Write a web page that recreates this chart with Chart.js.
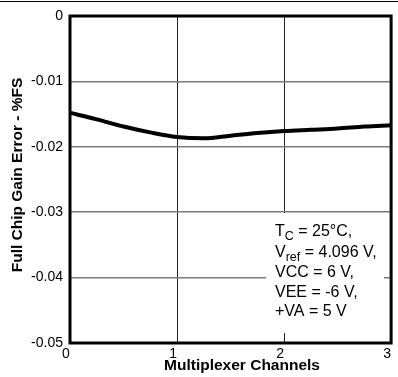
<!DOCTYPE html>
<html>
  <head>
    <title>Full Chip Gain Error vs Multiplexer Channels</title>
    <script src="https://cdn.jsdelivr.net/npm/chart.js"></script>
    <style>
      html, body { margin: 0; padding: 0; background: #fff; }
      .chart-container { width: 398px; height: 377px; }
    </style>
  </head>
  <body>
    <div class="chart-container">
      <canvas id="myChart"></canvas>
    </div>

    <script>
      // values
      const channels = [0, 0.25, 0.5, 0.75, 1.0, 1.25, 1.5, 1.75, 2.0, 2.25, 2.5, 2.75, 3.0];
      const gainError = [-0.0148, -0.0158, -0.0169, -0.0178, -0.0185, -0.0187, -0.0183, -0.0179, -0.0176, -0.0174, -0.0172, -0.0169, -0.0167];
      const xTicks = [0, 1, 2, 3];
      const yTicks = [0, -0.01, -0.02, -0.03, -0.04, -0.05];
      const xTitle = "Multiplexer Channels";
      const yTitle = "Full Chip Gain Error - %FS";
      const noteLines = [
        ["T", "C", " = 25°C,"],
        ["V", "ref", " = 4.096 V,"],
        ["VCC = 6 V,", "", ""],
        ["VEE = -6 V,", "", ""],
        ["+VA = 5 V", "", ""],
      ];

      const fontFamily = "'Liberation Sans', Arial, sans-serif";

      const points = channels.map((c, i) => ({ x: c, y: gainError[i] }));

      // frame, top rule, axis titles and the conditions box
      const decorations = {
        id: "decorations",
        afterDraw(chart) {
          const ctx = chart.ctx;
          const a = chart.chartArea;
          ctx.save();
          ctx.strokeStyle = "#000";
          ctx.lineWidth = 1;
          ctx.beginPath();
          ctx.moveTo(0, 1.5);
          ctx.lineTo(chart.width, 1.5);
          ctx.stroke();

          ctx.lineWidth = 3;
          ctx.strokeRect(a.left, a.top, a.right - a.left, a.bottom - a.top);

          // axis titles (the original sits a little off the plot centre)
          ctx.fillStyle = "#000";
          ctx.font = "bold 15.5px " + fontFamily;
          ctx.textAlign = "center";
          ctx.textBaseline = "middle";
          ctx.fillText(xTitle, 242, 365.5);
          ctx.save();
          ctx.translate(17.5, 175);
          ctx.rotate(-Math.PI / 2);
          ctx.fillText(yTitle, 0, 0);
          ctx.restore();

          ctx.fillStyle = "#fff";
          ctx.fillRect(266, 213, 118, 120);

          ctx.fillStyle = "#000";
          ctx.textAlign = "left";
          ctx.textBaseline = "alphabetic";
          const baselines = [236, 256.5, 277, 297, 316];
          noteLines.forEach((ln, i) => {
            let x = 275;
            const y = baselines[i];
            ctx.font = "16px " + fontFamily;
            ctx.fillText(ln[0], x, y);
            x += ctx.measureText(ln[0]).width;
            if (ln[1]) {
              ctx.font = "12.5px " + fontFamily;
              ctx.fillText(ln[1], x, y + 4);
              x += ctx.measureText(ln[1]).width;
              ctx.font = "16px " + fontFamily;
              ctx.fillText(ln[2], x, y);
            }
          });
          ctx.restore();
        },
      };

      const chartData = {
        datasets: [
          {
            label: "Gain error",
            data: points,
            borderColor: "#000",
            borderWidth: 4,
            pointRadius: 0,
            fill: false,
            cubicInterpolationMode: "monotone",
          },
        ],
      };

      const chartOptions = {
        responsive: false,
        animation: false,
        layout: { padding: { top: 16, right: 2, left: 0, bottom: 0 } },
        plugins: { legend: { display: false }, tooltip: { enabled: false } },
        scales: {
          x: {
            type: "linear",
            min: 0,
            max: 3,
            afterBuildTicks: (axis) => {
              axis.ticks = xTicks.map((v) => ({ value: v }));
            },
            afterFit: (axis) => {
              axis.height = 34;
            },
            grid: { color: "#222", lineWidth: 1, drawTicks: false },
            border: { display: false },
            ticks: {
              color: "#000",
              padding: 3,
              labelOffset: -4,
              maxRotation: 0,
              font: { family: fontFamily, size: 14 },
              callback: (v) => String(v),
            },
          },
          y: {
            min: -0.05,
            max: 0,
            afterBuildTicks: (axis) => {
              axis.ticks = yTicks.map((v) => ({ value: v }));
            },
            afterFit: (axis) => {
              axis.width = 70;
            },
            grid: { color: "#7a7a7a", lineWidth: 1.5, drawTicks: false },
            border: { display: false },
            ticks: {
              color: "#000",
              padding: 7,
              font: { family: fontFamily, size: 14 },
              callback: (v) => (v === 0 ? "0" : v.toFixed(2)),
            },
          },
        },
      };

      const canvas = document.getElementById("myChart");
      canvas.width = 398;
      canvas.height = 377;
      const myChart = new Chart(canvas, {
        type: "line",
        data: chartData,
        options: chartOptions,
        plugins: [decorations],
      });
    </script>
  </body>
</html>
